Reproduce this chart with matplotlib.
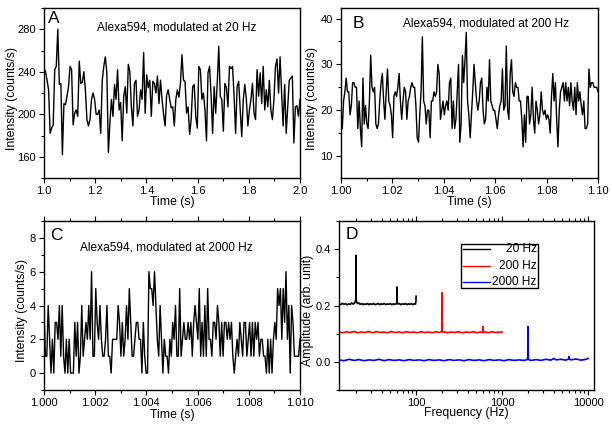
import numpy as np
import matplotlib
matplotlib.use("Agg")
import matplotlib.pyplot as plt
from matplotlib.ticker import MultipleLocator, FormatStrFormatter, LogLocator, NullFormatter, FixedLocator
from matplotlib.patches import Rectangle

plt.rcParams['font.family'] = ['Liberation Sans', 'DejaVu Sans']

# ---------------- data ----------------
A_t0, A_t1 = 1.0, 2.0
A_vals = [243, 240, 232, 223, 182, 187, 190, 242, 245, 280, 228, 229, 162, 210, 209, 217, 226, 245,
          242, 190, 201, 204, 198, 250, 229, 230, 240, 223, 195, 189, 195, 214, 220, 214, 200, 200,
          204, 182, 232, 245, 254, 239, 164, 192, 214, 198, 228, 214, 242, 204, 211, 175, 217, 226,
          201, 247, 240, 207, 189, 229, 232, 198, 204, 223, 214, 258, 201, 237, 225, 232, 198, 231,
          229, 220, 236, 210, 232, 214, 200, 189, 218, 223, 214, 206, 207, 189, 214, 223, 216, 229,
          256, 232, 231, 201, 207, 181, 195, 226, 228, 198, 187, 245, 242, 214, 220, 204, 175, 239,
          245, 218, 182, 226, 201, 229, 264, 217, 214, 184, 229, 225, 207, 245, 243, 245, 217, 182,
          226, 231, 204, 179, 214, 228, 214, 189, 204, 214, 229, 201, 195, 242, 217, 239, 210, 245,
          204, 223, 207, 232, 204, 195, 214, 245, 252, 220, 254, 220, 189, 228, 182, 207, 232, 234,
          236, 173, 207, 208, 198, 214]

B_t0, B_t1 = 1.00, 1.10
B_vals = [20, 16, 22, 24, 27, 24, 24, 19, 21, 26, 26, 25, 25, 16, 22, 16, 12, 27, 17, 21, 17, 16,
          22, 32, 25, 24, 25, 17, 16, 17, 22, 26, 28, 22, 18, 24, 29, 22, 21, 19, 14, 23, 24, 23,
          25, 28, 22, 18, 22, 25, 24, 18, 22, 23, 25, 26, 25, 25, 21, 14, 13, 19, 24, 36, 22, 21,
          17, 20, 20, 14, 22, 22, 24, 23, 24, 30, 28, 18, 20, 22, 19, 21, 22, 20, 26, 27, 16, 22,
          16, 18, 24, 30, 13, 17, 32, 26, 31, 37, 22, 19, 14, 19, 24, 30, 26, 22, 20, 22, 26, 27,
          20, 17, 18, 25, 22, 31, 22, 21, 20, 20, 18, 16, 19, 21, 22, 29, 20, 21, 34, 20, 18, 28,
          31, 24, 23, 26, 25, 25, 22, 22, 18, 12, 19, 13, 23, 23, 17, 19, 25, 18, 15, 22, 20, 17,
          19, 24, 20, 19, 20, 18, 19, 18, 15, 23, 28, 22, 26, 18, 12, 20, 24, 25, 26, 22, 26, 22,
          25, 21, 26, 22, 20, 25, 19, 26, 22, 24, 21, 19, 22, 16, 16, 17, 29, 25, 26, 26, 25, 25,
          25, 24]

C_t0, C_t1 = 1.000, 1.010
C_vals = [4, 1, 1, 4, 2, 0, 2, 0, 3, 3, 2, 4, 1, 4, 1, 0, 2, 0, 2, 0, 0, 0, 3, 1, 3, 0, 1, 4, 1, 2,
          3, 2, 4, 2, 6, 1, 1, 5, 3, 2, 4, 2, 1, 1, 2, 4, 1, 1, 0, 2, 2, 2, 2, 4, 3, 1, 3, 1, 2, 4,
          2, 5, 3, 1, 1, 2, 3, 3, 2, 2, 0, 3, 1, 0, 0, 6, 5, 5, 4, 6, 4, 2, 1, 4, 2, 0, 2, 1, 1, 0,
          2, 1, 3, 2, 4, 1, 1, 5, 1, 2, 3, 2, 2, 3, 2, 3, 1, 3, 4, 3, 2, 5, 1, 3, 1, 4, 1, 5, 2, 2,
          1, 3, 3, 2, 4, 3, 1, 3, 1, 3, 3, 2, 3, 2, 3, 1, 0, 1, 2, 1, 3, 2, 1, 3, 3, 1, 2, 3, 1, 3,
          1, 3, 2, 3, 1, 2, 2, 1, 1, 0, 2, 0, 2, 0, 2, 3, 2, 5, 4, 5, 2, 5, 3, 6, 2, 4, 0, 4, 3, 1,
          1, 1, 1, 2]

# spectra (frequency in Hz, amplitude in arb. unit)
f20 = [12.7, 13.3, 13.9, 14.5, 15.1, 15.8, 16.5, 17.2, 17.9, 18.6,
       19.2, 19.6, 19.9, 20.0, 20.1, 20.4, 20.9, 21.6, 22.4, 23.3,
       24.2, 25.2, 26.2, 27.3, 28.4, 29.6, 30.8, 32.1, 33.4, 34.8,
       36.2, 37.7, 39.3, 40.9, 42.6, 44.4, 46.2, 48.1, 50.1, 52.2,
       54.4, 56.6, 58.5, 59.7, 60.0, 60.3, 61.5, 63.8, 66.4, 69.1,
       72.0, 75.0, 78.1, 81.3, 84.7, 88.2, 91.8, 95.6, 98.5, 99.6,
       100.0]
a20 = [0.206, 0.203, 0.208, 0.204, 0.207, 0.202, 0.206, 0.204, 0.209, 0.205,
       0.208, 0.214, 0.220, 0.378, 0.220, 0.212, 0.207, 0.209, 0.204, 0.207,
       0.203, 0.206, 0.204, 0.207, 0.203, 0.206, 0.204, 0.207, 0.203, 0.205,
       0.207, 0.203, 0.206, 0.204, 0.207, 0.203, 0.206, 0.204, 0.207, 0.203,
       0.206, 0.204, 0.206, 0.210, 0.266, 0.210, 0.205, 0.207, 0.203, 0.206,
       0.204, 0.207, 0.203, 0.206, 0.204, 0.207, 0.203, 0.206, 0.205, 0.215,
       0.233]

f200 = [12.7, 14.0, 15.5, 17.1, 18.9, 20.9, 23.1, 25.5, 28.2, 31.2,
        34.5, 38.1, 42.1, 46.5, 51.4, 56.8, 62.8, 69.4, 76.7, 84.8,
        93.7, 103.5, 114.4, 126.4, 139.7, 154.4, 170.6, 185.0, 194.0, 198.5,
        200.0, 201.5, 206.0, 215.0, 230.5, 254.7, 281.5, 311.1, 343.8, 379.9,
        419.8, 463.9, 512.6, 560.0, 590.0, 597.0, 600.0, 603.0, 612.0, 640.0,
        691.8, 764.5, 844.8, 933.5, 980.0, 1000.0]
a200 = [0.106, 0.103, 0.107, 0.104, 0.108, 0.103, 0.106, 0.104, 0.108, 0.103,
        0.107, 0.104, 0.106, 0.103, 0.108, 0.104, 0.106, 0.103, 0.107, 0.104,
        0.106, 0.103, 0.107, 0.104, 0.106, 0.103, 0.107, 0.104, 0.106, 0.109,
        0.245, 0.109, 0.105, 0.107, 0.103, 0.106, 0.104, 0.107, 0.103, 0.106,
        0.104, 0.107, 0.103, 0.106, 0.104, 0.108, 0.125, 0.108, 0.104, 0.106,
        0.103, 0.107, 0.104, 0.106, 0.104, 0.106]

f2000 = [12.7, 14.5, 16.6, 19.0, 21.7, 24.8, 28.4, 32.5, 37.1, 42.4,
         48.5, 55.5, 63.4, 72.5, 82.9, 94.8, 108.4, 123.9, 141.7, 162.0,
         185.2, 211.7, 242.1, 276.8, 316.4, 361.8, 413.6, 472.9, 540.7, 618.2,
         706.8, 808.1, 923.9, 1056, 1208, 1381, 1579, 1800, 1940, 1985,
         2000, 2015, 2060, 2200, 2470, 2820, 3230, 3690, 4000, 4220,
         4820, 5510, 5900, 6000, 6100, 6300, 7200, 8240, 9420, 10000]
a2000 = [0.007, 0.004, 0.009, 0.005, 0.008, 0.004, 0.007, 0.005, 0.009, 0.004,
         0.008, 0.005, 0.007, 0.004, 0.008, 0.005, 0.007, 0.004, 0.008, 0.005,
         0.007, 0.004, 0.008, 0.005, 0.007, 0.004, 0.008, 0.005, 0.007, 0.004,
         0.008, 0.005, 0.007, 0.004, 0.008, 0.005, 0.007, 0.005, 0.008, 0.012,
         0.125, 0.012, 0.007, 0.005, 0.008, 0.005, 0.009, 0.006, 0.012, 0.007,
         0.009, 0.006, 0.010, 0.019, 0.009, 0.007, 0.010, 0.006, 0.009, 0.012]

legend_labels = ["20 Hz", "200 Hz", "2000 Hz"]
spec_colors = ["black", "#ff0000", "#0000ff"]

# ---------------- figure ----------------
fig = plt.figure(figsize=(6.12, 4.30), dpi=100)
W, H = 612.0, 430.0

def axes_px(l, t, r, b):
    return fig.add_axes([l / W, (H - b) / H, (r - l) / W, (b - t) / H])

axA = axes_px(44, 8, 300, 178)
axB = axes_px(341, 8, 598, 178)
axC = axes_px(44, 221, 300, 390)
axD = axes_px(339, 221, 594, 390)

TICK_FS = 8
LAB_FS = 8.8
TXT_FS = 8.6

def style(ax, top=False):
    ax.tick_params(which='both', direction='out', top=top, right=False,
                   labelsize=TICK_FS, pad=2.5)
    ax.tick_params(which='major', length=3.5, width=0.8)
    ax.tick_params(which='minor', length=2.0, width=0.8)
    for s in ax.spines.values():
        s.set_linewidth(1.0)

# Panel A
tA = np.linspace(A_t0, A_t1, len(A_vals))
axA.plot(tA, A_vals, color='black', lw=1.0)
axA.set_xlim(1.0, 2.0)
axA.set_ylim(140, 300)
axA.xaxis.set_major_locator(MultipleLocator(0.2))
axA.xaxis.set_minor_locator(MultipleLocator(0.1))
axA.xaxis.set_major_formatter(FormatStrFormatter('%.1f'))
axA.yaxis.set_major_locator(FixedLocator([160, 200, 240, 280]))
axA.yaxis.set_minor_locator(FixedLocator([140, 180, 220, 260, 300]))
style(axA)
axA.text(0.014, 0.985, "A", transform=axA.transAxes, ha='left', va='top', fontsize=12.5)
axA.text(0.207, 0.885, "Alexa594, modulated at 20 Hz", transform=axA.transAxes,
         ha='left', va='center', fontsize=TXT_FS)

# Panel B
tB = np.linspace(B_t0, B_t1, len(B_vals))
axB.plot(tB, B_vals, color='black', lw=1.0)
axB.set_xlim(1.00, 1.10)
axB.set_ylim(5.2, 42.3)
axB.xaxis.set_major_locator(MultipleLocator(0.02))
axB.xaxis.set_minor_locator(MultipleLocator(0.01))
axB.xaxis.set_major_formatter(FormatStrFormatter('%.2f'))
axB.yaxis.set_major_locator(MultipleLocator(10))
axB.yaxis.set_minor_locator(MultipleLocator(5))
style(axB)
axB.text(0.045, 0.955, "B", transform=axB.transAxes, ha='left', va='top', fontsize=12.5)
axB.text(0.241, 0.906, "Alexa594, modulated at 200 Hz", transform=axB.transAxes,
         ha='left', va='center', fontsize=TXT_FS)

# Panel C
tC = np.linspace(C_t0, C_t1, len(C_vals))
axC.plot(tC, C_vals, color='black', lw=1.0)
axC.set_xlim(1.000, 1.010)
axC.set_ylim(-1, 9)
axC.xaxis.set_major_locator(MultipleLocator(0.002))
axC.xaxis.set_minor_locator(MultipleLocator(0.001))
axC.xaxis.set_major_formatter(FormatStrFormatter('%.3f'))
axC.yaxis.set_major_locator(MultipleLocator(2))
axC.yaxis.set_minor_locator(MultipleLocator(1))
style(axC, top=True)
axC.tick_params(which='both', labeltop=False)
axC.text(0.022, 0.96, "C", transform=axC.transAxes, ha='left', va='top', fontsize=12.5)
axC.text(0.14, 0.846, "Alexa594, modulated at 2000 Hz", transform=axC.transAxes,
         ha='left', va='center', fontsize=TXT_FS)

# Panel D
for f, a, c in zip([f20, f200, f2000], [a20, a200, a2000], spec_colors):
    axD.plot(f, a, color=c, lw=1.2)
axD.set_xscale('log')
axD.set_xlim(12.7, 11700)
axD.set_ylim(-0.1, 0.5)
axD.xaxis.set_major_locator(FixedLocator([100, 1000, 10000]))
axD.xaxis.set_major_formatter(FormatStrFormatter('%d'))
axD.xaxis.set_minor_locator(LogLocator(base=10, subs=range(2, 10)))
axD.xaxis.set_minor_formatter(NullFormatter())
axD.yaxis.set_major_locator(MultipleLocator(0.2))
axD.yaxis.set_minor_locator(MultipleLocator(0.1))
axD.yaxis.set_major_formatter(FormatStrFormatter('%.1f'))
style(axD, top=True)
axD.tick_params(which='both', labeltop=False)
axD.text(0.027, 0.965, "D", transform=axD.transAxes, ha='left', va='top', fontsize=12.5)

# legend box (manual, right-aligned labels)
axD.add_patch(Rectangle((0.478, 0.606), 0.302, 0.259, transform=axD.transAxes,
                        fill=False, edgecolor='black', lw=1.0))
for lab, c, yy in zip(legend_labels, spec_colors, [0.834, 0.735, 0.641]):
    axD.plot([0.487, 0.593], [yy, yy], transform=axD.transAxes, color=c, lw=1.0)
    axD.text(0.775, yy, lab, transform=axD.transAxes, ha='right', va='center', fontsize=TXT_FS)

# axis labels
for ax in (axA, axB, axC):
    ax.set_xlabel("Time (s)", fontsize=LAB_FS)
    ax.set_ylabel("Intensity (counts/s)", fontsize=LAB_FS)
axD.set_xlabel("Frequency (Hz)", fontsize=LAB_FS)
axD.set_ylabel("Amplitude (arb. unit)", fontsize=LAB_FS)

axA.yaxis.set_label_coords(-0.10, 0.47)
axB.yaxis.set_label_coords(-0.088, 0.47)
axC.yaxis.set_label_coords(-0.062, 0.47)
axD.yaxis.set_label_coords(-0.10, 0.47)
axA.xaxis.set_label_coords(0.5, -0.105)
axB.xaxis.set_label_coords(0.5, -0.105)
axC.xaxis.set_label_coords(0.5, -0.115)
axD.xaxis.set_label_coords(0.5, -0.10)

fig.savefig("out.png", dpi=100)
